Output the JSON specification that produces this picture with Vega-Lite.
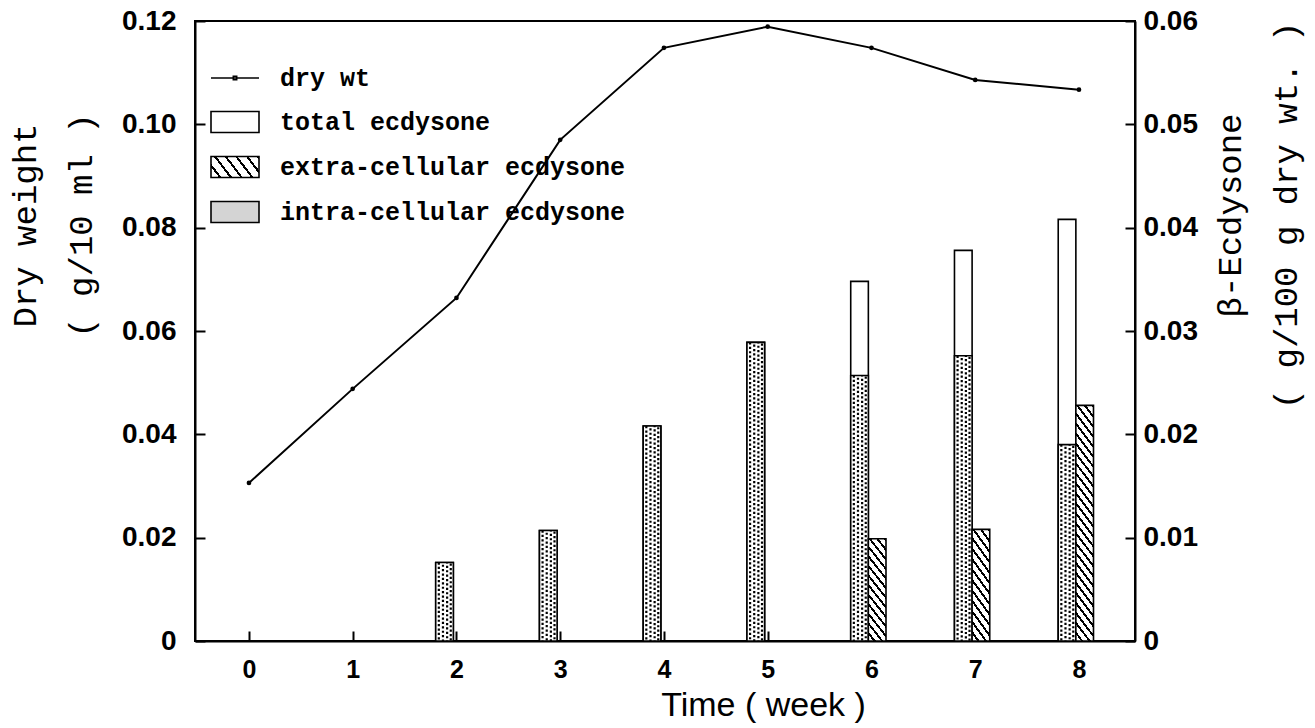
{
  "$schema": "https://vega.github.io/schema/vega-lite/v6.json",
  "width": 940,
  "height": 620,
  "autosize": "none",
  "padding": {"left": 195, "top": 21, "right": 180, "bottom": 87},
  "background": "white",
  "data": {
    "values": [
      {"week": 0, "dry_wt": 0.0306},
      {"week": 1, "dry_wt": 0.0488},
      {"week": 2, "dry_wt": 0.0664, "total": 0.0076, "intra": 0.0076},
      {"week": 3, "dry_wt": 0.0970, "total": 0.0107, "intra": 0.0107},
      {"week": 4, "dry_wt": 0.1148, "total": 0.0208, "intra": 0.0208},
      {"week": 5, "dry_wt": 0.1189, "total": 0.0289, "intra": 0.0289},
      {"week": 6, "dry_wt": 0.1148, "total": 0.0348, "intra": 0.0257, "extra": 0.0099},
      {"week": 7, "dry_wt": 0.1086, "total": 0.0378, "intra": 0.0276, "extra": 0.0108},
      {"week": 8, "dry_wt": 0.1067, "total": 0.0408, "intra": 0.0190, "extra": 0.0228}
    ]
  },
  "layer": [
    {
      "mark": {"type": "line", "color": "black", "strokeWidth": 2, "point": {"filled": true, "size": 22, "color": "black"}},
      "encoding": {
        "x": {"field": "week", "type": "quantitative", "scale": {"domain": [-0.52, 8.54], "nice": false, "zero": false}, "axis": {"values": [0,1,2,3,4,5,6,7,8], "labelPadding": 26, "titleX": 568, "titleY": 64, "titleBaseline": "middle", "titleAlign": "center"}, "title": "Time ( week )"},
        "y": {"field": "dry_wt", "type": "quantitative", "scale": {"domain": [0, 0.12], "nice": false}, "axis": {"orient": "left", "values": [0,0.02,0.04,0.06,0.08,0.1,0.12], "labelExpr": "datum.value === 0 ? '0' : format(datum.value, '.2f')", "labelPadding": 29, "titleX": -170, "titleY": 204, "titleAngle": -90, "titleAlign": "center", "titleBaseline": "middle", "titleLineHeight": 56}, "title": ["Dry weight", "( g/10 ml )"]}
      }
    },
    {
      "layer": [
        {
          "transform": [{"filter": "isValid(datum.total)"}, {"calculate": "datum.week - 0.2", "as": "xa"}, {"calculate": "datum.week - 0.03", "as": "xb"}],
          "mark": {"type": "bar", "fill": "white", "stroke": "black", "strokeWidth": 1.6},
          "encoding": {
            "x": {"field": "xa", "type": "quantitative", "scale": {"domain": [-0.52, 8.54], "nice": false, "zero": false}, "axis": {"values": [0,1,2,3,4,5,6,7,8], "labelPadding": 26, "titleX": 568, "titleY": 64, "titleBaseline": "middle", "titleAlign": "center"}, "title": "Time ( week )"},
            "x2": {"field": "xb"},
            "y": {"field": "total", "type": "quantitative", "scale": {"domain": [0, 0.06], "nice": false}, "axis": {"orient": "right", "values": [0,0.01,0.02,0.03,0.04,0.05,0.06], "labelExpr": "datum.value === 0 ? '0' : format(datum.value, '.2f')", "labelAlign": "left", "labelPadding": 18, "titleX": 95, "titleY": 194, "titleAngle": -90, "titleAlign": "center", "titleBaseline": "middle", "titleLineHeight": 56}, "title": ["β-Ecdysone", "( g/100 g dry wt. )"]},
            "y2": {"datum": 0}
          }
        },
        {
          "transform": [{"filter": "isValid(datum.intra)"}, {"calculate": "datum.week - 0.2", "as": "xa"}, {"calculate": "datum.week - 0.03", "as": "xb"}],
          "mark": {"type": "bar", "fill": "white", "stroke": "black", "strokeWidth": 1.6},
          "encoding": {
            "x": {"field": "xa", "type": "quantitative", "scale": {"domain": [-0.52, 8.54], "nice": false, "zero": false}, "axis": {"values": [0,1,2,3,4,5,6,7,8], "labelPadding": 26, "titleX": 568, "titleY": 64, "titleBaseline": "middle", "titleAlign": "center"}, "title": "Time ( week )"},
            "x2": {"field": "xb"},
            "y": {"field": "intra", "type": "quantitative", "scale": {"domain": [0, 0.06], "nice": false}, "axis": {"orient": "right", "values": [0,0.01,0.02,0.03,0.04,0.05,0.06], "labelExpr": "datum.value === 0 ? '0' : format(datum.value, '.2f')", "labelAlign": "left", "labelPadding": 18, "titleX": 95, "titleY": 194, "titleAngle": -90, "titleAlign": "center", "titleBaseline": "middle", "titleLineHeight": 56}, "title": ["β-Ecdysone", "( g/100 g dry wt. )"]},
            "y2": {"datum": 0}
          }
        },
        {
          "transform": [{"filter": "isValid(datum.intra)"}, {"calculate": "datum.week - 0.17", "as": "xd"}],
          "mark": {"type": "rule", "stroke": "black", "strokeWidth": 2.2, "strokeDash": [2.2, 2.2], "strokeCap": "butt"},
          "encoding": {
            "x": {"field": "xd", "type": "quantitative", "scale": {"domain": [-0.52, 8.54], "nice": false, "zero": false}, "axis": {"values": [0,1,2,3,4,5,6,7,8], "labelPadding": 26, "titleX": 568, "titleY": 64, "titleBaseline": "middle", "titleAlign": "center"}, "title": "Time ( week )"},
            "y": {"field": "intra", "type": "quantitative", "scale": {"domain": [0, 0.06], "nice": false}, "axis": {"orient": "right", "values": [0,0.01,0.02,0.03,0.04,0.05,0.06], "labelExpr": "datum.value === 0 ? '0' : format(datum.value, '.2f')", "labelAlign": "left", "labelPadding": 18, "titleX": 95, "titleY": 194, "titleAngle": -90, "titleAlign": "center", "titleBaseline": "middle", "titleLineHeight": 56}, "title": ["β-Ecdysone", "( g/100 g dry wt. )"]},
            "y2": {"datum": 0}
          }
        },
        {
          "transform": [{"filter": "isValid(datum.intra)"}, {"calculate": "datum.week - 0.13", "as": "xd"}],
          "mark": {"type": "rule", "stroke": "black", "strokeWidth": 2.2, "strokeDash": [2.2, 2.2], "strokeDashOffset": 2.2, "strokeCap": "butt"},
          "encoding": {
            "x": {"field": "xd", "type": "quantitative", "scale": {"domain": [-0.52, 8.54], "nice": false, "zero": false}, "axis": {"values": [0,1,2,3,4,5,6,7,8], "labelPadding": 26, "titleX": 568, "titleY": 64, "titleBaseline": "middle", "titleAlign": "center"}, "title": "Time ( week )"},
            "y": {"field": "intra", "type": "quantitative", "scale": {"domain": [0, 0.06], "nice": false}, "axis": {"orient": "right", "values": [0,0.01,0.02,0.03,0.04,0.05,0.06], "labelExpr": "datum.value === 0 ? '0' : format(datum.value, '.2f')", "labelAlign": "left", "labelPadding": 18, "titleX": 95, "titleY": 194, "titleAngle": -90, "titleAlign": "center", "titleBaseline": "middle", "titleLineHeight": 56}, "title": ["β-Ecdysone", "( g/100 g dry wt. )"]},
            "y2": {"datum": 0}
          }
        },
        {
          "transform": [{"filter": "isValid(datum.intra)"}, {"calculate": "datum.week - 0.09", "as": "xd"}],
          "mark": {"type": "rule", "stroke": "black", "strokeWidth": 2.2, "strokeDash": [2.2, 2.2], "strokeDashOffset": 1.1, "strokeCap": "butt"},
          "encoding": {
            "x": {"field": "xd", "type": "quantitative", "scale": {"domain": [-0.52, 8.54], "nice": false, "zero": false}, "axis": {"values": [0,1,2,3,4,5,6,7,8], "labelPadding": 26, "titleX": 568, "titleY": 64, "titleBaseline": "middle", "titleAlign": "center"}, "title": "Time ( week )"},
            "y": {"field": "intra", "type": "quantitative", "scale": {"domain": [0, 0.06], "nice": false}, "axis": {"orient": "right", "values": [0,0.01,0.02,0.03,0.04,0.05,0.06], "labelExpr": "datum.value === 0 ? '0' : format(datum.value, '.2f')", "labelAlign": "left", "labelPadding": 18, "titleX": 95, "titleY": 194, "titleAngle": -90, "titleAlign": "center", "titleBaseline": "middle", "titleLineHeight": 56}, "title": ["β-Ecdysone", "( g/100 g dry wt. )"]},
            "y2": {"datum": 0}
          }
        },
        {
          "transform": [{"filter": "isValid(datum.intra)"}, {"calculate": "datum.week - 0.055", "as": "xd"}],
          "mark": {"type": "rule", "stroke": "black", "strokeWidth": 2.2, "strokeDash": [2.2, 2.2], "strokeDashOffset": 3.3, "strokeCap": "butt"},
          "encoding": {
            "x": {"field": "xd", "type": "quantitative", "scale": {"domain": [-0.52, 8.54], "nice": false, "zero": false}, "axis": {"values": [0,1,2,3,4,5,6,7,8], "labelPadding": 26, "titleX": 568, "titleY": 64, "titleBaseline": "middle", "titleAlign": "center"}, "title": "Time ( week )"},
            "y": {"field": "intra", "type": "quantitative", "scale": {"domain": [0, 0.06], "nice": false}, "axis": {"orient": "right", "values": [0,0.01,0.02,0.03,0.04,0.05,0.06], "labelExpr": "datum.value === 0 ? '0' : format(datum.value, '.2f')", "labelAlign": "left", "labelPadding": 18, "titleX": 95, "titleY": 194, "titleAngle": -90, "titleAlign": "center", "titleBaseline": "middle", "titleLineHeight": 56}, "title": ["β-Ecdysone", "( g/100 g dry wt. )"]},
            "y2": {"datum": 0}
          }
        },
        {
          "transform": [{"filter": "isValid(datum.extra) && datum.week < 8"}, {"calculate": "datum.week - 0.03", "as": "xa"}, {"calculate": "datum.week + 0.14", "as": "xb"}],
          "mark": {
            "type": "bar", "stroke": "black", "strokeWidth": 1.6,
            "fill": {"gradient": "linear", "x1": 0, "y1": 1, "x2": 0.2544, "y2": -0.163, "stops": [
              {"offset": 0, "color": "white"}, {"offset": 0.0519, "color": "white"}, {"offset": 0.0519, "color": "black"}, {"offset": 0.0769, "color": "black"},
              {"offset": 0.0769, "color": "white"}, {"offset": 0.1288, "color": "white"}, {"offset": 0.1288, "color": "black"}, {"offset": 0.1538, "color": "black"},
              {"offset": 0.1538, "color": "white"}, {"offset": 0.2058, "color": "white"}, {"offset": 0.2058, "color": "black"}, {"offset": 0.2308, "color": "black"},
              {"offset": 0.2308, "color": "white"}, {"offset": 0.2827, "color": "white"}, {"offset": 0.2827, "color": "black"}, {"offset": 0.3077, "color": "black"},
              {"offset": 0.3077, "color": "white"}, {"offset": 0.3596, "color": "white"}, {"offset": 0.3596, "color": "black"}, {"offset": 0.3846, "color": "black"},
              {"offset": 0.3846, "color": "white"}, {"offset": 0.4365, "color": "white"}, {"offset": 0.4365, "color": "black"}, {"offset": 0.4615, "color": "black"},
              {"offset": 0.4615, "color": "white"}, {"offset": 0.5135, "color": "white"}, {"offset": 0.5135, "color": "black"}, {"offset": 0.5385, "color": "black"},
              {"offset": 0.5385, "color": "white"}, {"offset": 0.5904, "color": "white"}, {"offset": 0.5904, "color": "black"}, {"offset": 0.6154, "color": "black"},
              {"offset": 0.6154, "color": "white"}, {"offset": 0.6673, "color": "white"}, {"offset": 0.6673, "color": "black"}, {"offset": 0.6923, "color": "black"},
              {"offset": 0.6923, "color": "white"}, {"offset": 0.7442, "color": "white"}, {"offset": 0.7442, "color": "black"}, {"offset": 0.7692, "color": "black"},
              {"offset": 0.7692, "color": "white"}, {"offset": 0.8212, "color": "white"}, {"offset": 0.8212, "color": "black"}, {"offset": 0.8462, "color": "black"},
              {"offset": 0.8462, "color": "white"}, {"offset": 0.8981, "color": "white"}, {"offset": 0.8981, "color": "black"}, {"offset": 0.9231, "color": "black"},
              {"offset": 0.9231, "color": "white"}, {"offset": 0.975, "color": "white"}, {"offset": 0.975, "color": "black"}, {"offset": 1, "color": "black"}
            ]}
          },
          "encoding": {
            "x": {"field": "xa", "type": "quantitative", "scale": {"domain": [-0.52, 8.54], "nice": false, "zero": false}, "axis": {"values": [0,1,2,3,4,5,6,7,8], "labelPadding": 26, "titleX": 568, "titleY": 64, "titleBaseline": "middle", "titleAlign": "center"}, "title": "Time ( week )"},
            "x2": {"field": "xb"},
            "y": {"field": "extra", "type": "quantitative", "scale": {"domain": [0, 0.06], "nice": false}, "axis": {"orient": "right", "values": [0,0.01,0.02,0.03,0.04,0.05,0.06], "labelExpr": "datum.value === 0 ? '0' : format(datum.value, '.2f')", "labelAlign": "left", "labelPadding": 18, "titleX": 95, "titleY": 194, "titleAngle": -90, "titleAlign": "center", "titleBaseline": "middle", "titleLineHeight": 56}, "title": ["β-Ecdysone", "( g/100 g dry wt. )"]},
            "y2": {"datum": 0}
          }
        },
        {
          "transform": [{"filter": "isValid(datum.extra) && datum.week === 8"}, {"calculate": "datum.week - 0.03", "as": "xa"}, {"calculate": "datum.week + 0.14", "as": "xb"}],
          "mark": {
            "type": "bar", "stroke": "black", "strokeWidth": 1.6,
            "fill": {"gradient": "linear", "x1": 0, "y1": 1, "x2": 0.108, "y2": -0.0885, "stops": [
              {"offset": 0, "color": "white"}, {"offset": 0.0258, "color": "white"}, {"offset": 0.0258, "color": "black"}, {"offset": 0.0385, "color": "black"},
              {"offset": 0.0385, "color": "white"}, {"offset": 0.0642, "color": "white"}, {"offset": 0.0642, "color": "black"}, {"offset": 0.0769, "color": "black"},
              {"offset": 0.0769, "color": "white"}, {"offset": 0.1027, "color": "white"}, {"offset": 0.1027, "color": "black"}, {"offset": 0.1154, "color": "black"},
              {"offset": 0.1154, "color": "white"}, {"offset": 0.1411, "color": "white"}, {"offset": 0.1411, "color": "black"}, {"offset": 0.1538, "color": "black"},
              {"offset": 0.1538, "color": "white"}, {"offset": 0.1796, "color": "white"}, {"offset": 0.1796, "color": "black"}, {"offset": 0.1923, "color": "black"},
              {"offset": 0.1923, "color": "white"}, {"offset": 0.2181, "color": "white"}, {"offset": 0.2181, "color": "black"}, {"offset": 0.2308, "color": "black"},
              {"offset": 0.2308, "color": "white"}, {"offset": 0.2565, "color": "white"}, {"offset": 0.2565, "color": "black"}, {"offset": 0.2692, "color": "black"},
              {"offset": 0.2692, "color": "white"}, {"offset": 0.2950, "color": "white"}, {"offset": 0.2950, "color": "black"}, {"offset": 0.3077, "color": "black"},
              {"offset": 0.3077, "color": "white"}, {"offset": 0.3335, "color": "white"}, {"offset": 0.3335, "color": "black"}, {"offset": 0.3462, "color": "black"},
              {"offset": 0.3462, "color": "white"}, {"offset": 0.3719, "color": "white"}, {"offset": 0.3719, "color": "black"}, {"offset": 0.3846, "color": "black"},
              {"offset": 0.3846, "color": "white"}, {"offset": 0.4104, "color": "white"}, {"offset": 0.4104, "color": "black"}, {"offset": 0.4231, "color": "black"},
              {"offset": 0.4231, "color": "white"}, {"offset": 0.4488, "color": "white"}, {"offset": 0.4488, "color": "black"}, {"offset": 0.4615, "color": "black"},
              {"offset": 0.4615, "color": "white"}, {"offset": 0.4873, "color": "white"}, {"offset": 0.4873, "color": "black"}, {"offset": 0.5, "color": "black"},
              {"offset": 0.5, "color": "white"}, {"offset": 0.5258, "color": "white"}, {"offset": 0.5258, "color": "black"}, {"offset": 0.5385, "color": "black"},
              {"offset": 0.5385, "color": "white"}, {"offset": 0.5642, "color": "white"}, {"offset": 0.5642, "color": "black"}, {"offset": 0.5769, "color": "black"},
              {"offset": 0.5769, "color": "white"}, {"offset": 0.6027, "color": "white"}, {"offset": 0.6027, "color": "black"}, {"offset": 0.6154, "color": "black"},
              {"offset": 0.6154, "color": "white"}, {"offset": 0.6411, "color": "white"}, {"offset": 0.6411, "color": "black"}, {"offset": 0.6538, "color": "black"},
              {"offset": 0.6538, "color": "white"}, {"offset": 0.6796, "color": "white"}, {"offset": 0.6796, "color": "black"}, {"offset": 0.6923, "color": "black"},
              {"offset": 0.6923, "color": "white"}, {"offset": 0.7181, "color": "white"}, {"offset": 0.7181, "color": "black"}, {"offset": 0.7308, "color": "black"},
              {"offset": 0.7308, "color": "white"}, {"offset": 0.7565, "color": "white"}, {"offset": 0.7565, "color": "black"}, {"offset": 0.7692, "color": "black"},
              {"offset": 0.7692, "color": "white"}, {"offset": 0.7950, "color": "white"}, {"offset": 0.7950, "color": "black"}, {"offset": 0.8077, "color": "black"},
              {"offset": 0.8077, "color": "white"}, {"offset": 0.8335, "color": "white"}, {"offset": 0.8335, "color": "black"}, {"offset": 0.8462, "color": "black"},
              {"offset": 0.8462, "color": "white"}, {"offset": 0.8719, "color": "white"}, {"offset": 0.8719, "color": "black"}, {"offset": 0.8846, "color": "black"},
              {"offset": 0.8846, "color": "white"}, {"offset": 0.9104, "color": "white"}, {"offset": 0.9104, "color": "black"}, {"offset": 0.9231, "color": "black"},
              {"offset": 0.9231, "color": "white"}, {"offset": 0.9488, "color": "white"}, {"offset": 0.9488, "color": "black"}, {"offset": 0.9615, "color": "black"},
              {"offset": 0.9615, "color": "white"}, {"offset": 0.9873, "color": "white"}, {"offset": 0.9873, "color": "black"}, {"offset": 1, "color": "black"}
            ]}
          },
          "encoding": {
            "x": {"field": "xa", "type": "quantitative", "scale": {"domain": [-0.52, 8.54], "nice": false, "zero": false}, "axis": {"values": [0,1,2,3,4,5,6,7,8], "labelPadding": 26, "titleX": 568, "titleY": 64, "titleBaseline": "middle", "titleAlign": "center"}, "title": "Time ( week )"},
            "x2": {"field": "xb"},
            "y": {"field": "extra", "type": "quantitative", "scale": {"domain": [0, 0.06], "nice": false}, "axis": {"orient": "right", "values": [0,0.01,0.02,0.03,0.04,0.05,0.06], "labelExpr": "datum.value === 0 ? '0' : format(datum.value, '.2f')", "labelAlign": "left", "labelPadding": 18, "titleX": 95, "titleY": 194, "titleAngle": -90, "titleAlign": "center", "titleBaseline": "middle", "titleLineHeight": 56}, "title": ["β-Ecdysone", "( g/100 g dry wt. )"]},
            "y2": {"datum": 0}
          }
        }
      ]
    },
    {
      "data": {"values": [{"series": "dry wt"}, {"series": "total ecdysone"}, {"series": "extra-cellular ecdysone"}, {"series": "intra-cellular ecdysone"}]},
      "mark": {"type": "point", "opacity": 0, "stroke": "black", "strokeWidth": 1.6},
      "encoding": {
        "fill": {
          "field": "series", "type": "nominal",
          "scale": {"domain": ["dry wt", "total ecdysone", "extra-cellular ecdysone", "intra-cellular ecdysone"],
                    "range": ["transparent", "white", {"expr": "{gradient: 'linear', x1: 0, y1: 1, x2: 1.2, y2: 0.596, stops: [{offset: 0, color: 'white'}, {offset: 0.1267, color: 'white'}, {offset: 0.1267, color: 'black'}, {offset: 0.1667, color: 'black'}, {offset: 0.1667, color: 'white'}, {offset: 0.2933, color: 'white'}, {offset: 0.2933, color: 'black'}, {offset: 0.3333, color: 'black'}, {offset: 0.3333, color: 'white'}, {offset: 0.46, color: 'white'}, {offset: 0.46, color: 'black'}, {offset: 0.5, color: 'black'}, {offset: 0.5, color: 'white'}, {offset: 0.6267, color: 'white'}, {offset: 0.6267, color: 'black'}, {offset: 0.6667, color: 'black'}, {offset: 0.6667, color: 'white'}, {offset: 0.7933, color: 'white'}, {offset: 0.7933, color: 'black'}, {offset: 0.8333, color: 'black'}, {offset: 0.8333, color: 'white'}, {offset: 0.96, color: 'white'}, {offset: 0.96, color: 'black'}, {offset: 1, color: 'black'}]}"}, "#d4d4d4"]},
          "legend": {"title": null, "orient": "none", "legendX": 15, "legendY": 32, "symbolSize": 2304, "symbolStrokeColor": "black", "symbolStrokeWidth": 1.6, "symbolOpacity": 1, "labelFont": "Liberation Mono", "labelFontWeight": "bold", "labelFontSize": 25, "labelColor": "black", "labelOffset": 20, "rowPadding": 6, "padding": 0, "labelLimit": 0, "encode": {"symbols": {"update": {"stroke": {"value": "black"}, "strokeWidth": {"value": 1.6}, "strokeOpacity": {"value": 1}, "opacity": {"value": 1}}}}}
        },
        "shape": {
          "field": "series", "type": "nominal",
          "scale": {"domain": ["dry wt", "total ecdysone", "extra-cellular ecdysone", "intra-cellular ecdysone"],
                    "range": ["M-1,0L1,0M-0.07,-0.07L0.07,-0.07L0.07,0.07L-0.07,0.07Z", "M-1,-0.44L1,-0.44L1,0.44L-1,0.44Z", "M-1,-0.44L1,-0.44L1,0.44L-1,0.44Z", "M-1,-0.44L1,-0.44L1,0.44L-1,0.44Z"]},
          "legend": {"title": null, "orient": "none", "legendX": 15, "legendY": 32, "symbolSize": 2304, "symbolStrokeColor": "black", "symbolStrokeWidth": 1.6, "symbolOpacity": 1, "labelFont": "Liberation Mono", "labelFontWeight": "bold", "labelFontSize": 25, "labelColor": "black", "labelOffset": 20, "rowPadding": 6, "padding": 0, "labelLimit": 0, "encode": {"symbols": {"update": {"stroke": {"value": "black"}, "strokeWidth": {"value": 1.6}, "strokeOpacity": {"value": 1}, "opacity": {"value": 1}}}}}
        }
      }
    }
  ],
  "resolve": {"scale": {"y": "independent"}},
  "config": {
    "view": {"stroke": "black", "strokeWidth": 2},
    "axis": {"domainColor": "black", "domainWidth": 2, "tickColor": "black", "tickWidth": 2, "tickSize": -10, "grid": false, "labelColor": "black", "titleColor": "black", "labelFont": "Liberation Sans", "labelFontWeight": "bold"},
    "axisX": {"labelFontSize": 25, "titleFont": "Liberation Sans", "titleFontSize": 34, "titleFontWeight": "normal"},
    "axisY": {"labelFontSize": 28, "titleFont": "Liberation Mono", "titleFontSize": 34, "titleFontWeight": "normal"}
  }
}
